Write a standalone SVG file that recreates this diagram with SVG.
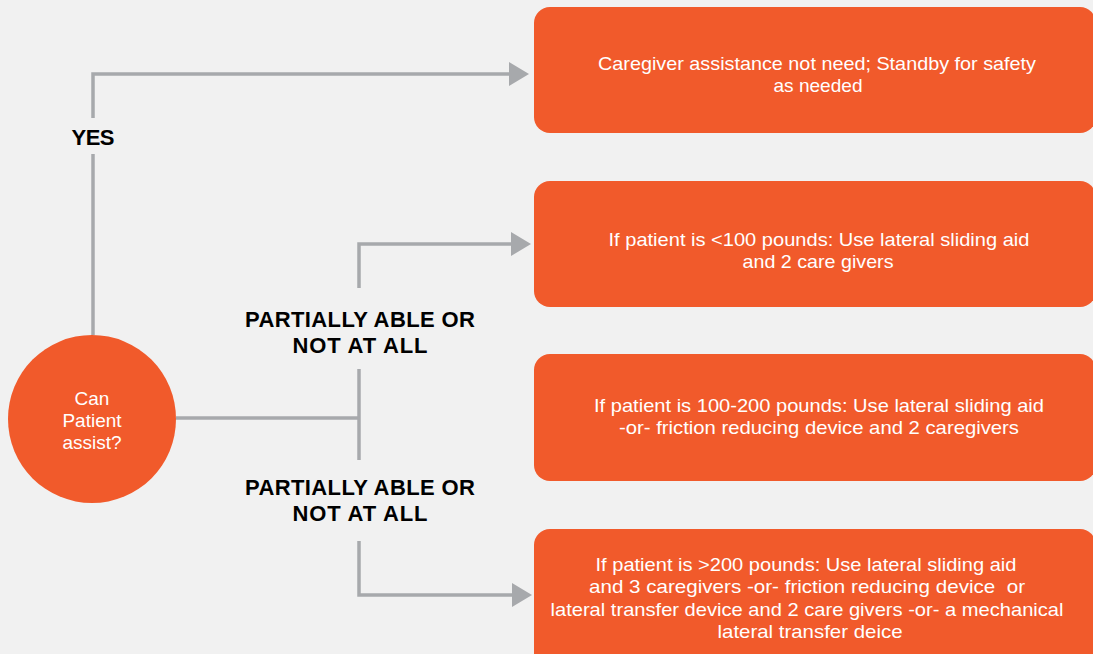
<svg xmlns="http://www.w3.org/2000/svg" width="1093" height="654" viewBox="0 0 1093 654">
<style>
.box{fill:#F15A2B}
.conn{fill:none;stroke:#A7A9AC;stroke-width:3.5}
.t{font-family:"Liberation Sans",Arial,sans-serif;font-size:19px;fill:#ffffff;text-anchor:middle}
.lbl{font-family:"Liberation Sans",Arial,sans-serif;font-size:22px;font-weight:bold;fill:#000000;text-anchor:middle}
</style>
<defs>
<marker id="arr" markerUnits="userSpaceOnUse" markerWidth="21" markerHeight="25" refX="0" refY="12" orient="auto">
<path d="M0,0 L20,12 L0,24 Z" fill="#A7A9AC"/>
</marker>
</defs>
<rect width="1093" height="654" fill="#F1F1F1"/>
<g id="connectors">
<path class="conn" d="M93,335 V154"/>
<path class="conn" d="M93,118 V74 H509" marker-end="url(#arr)"/>
<path class="conn" d="M176,418 H359"/>
<path class="conn" d="M359,369 V460"/>
<path class="conn" d="M359,288 V244 H511" marker-end="url(#arr)"/>
<path class="conn" d="M359,541 V595 H512" marker-end="url(#arr)"/>
<text class="lbl" x="93" y="145" textLength="43">YES</text>
<text class="lbl" x="360" y="327" textLength="230" lengthAdjust="spacing">PARTIALLY ABLE OR</text>
<text class="lbl" x="360" y="353" textLength="135" lengthAdjust="spacing">NOT AT ALL</text>
<text class="lbl" x="360" y="495" textLength="230" lengthAdjust="spacing">PARTIALLY ABLE OR</text>
<text class="lbl" x="360" y="521" textLength="135" lengthAdjust="spacing">NOT AT ALL</text>
</g>
<g id="start">
<circle cx="92" cy="419" r="84" class="box"/>
<text class="t" x="92" y="405">Can</text>
<text class="t" x="92" y="427">Patient</text>
<text class="t" x="92" y="449">assist?</text>
</g>
<g id="box1">
<rect x="534" y="7" width="562" height="126" rx="16" class="box"/>
<text class="t" x="817" y="70" textLength="438" lengthAdjust="spacingAndGlyphs">Caregiver assistance not need; Standby for safety</text>
<text class="t" x="818" y="92" textLength="89" lengthAdjust="spacingAndGlyphs">as needed</text>
</g>
<g id="box2">
<rect x="534" y="181" width="562" height="126" rx="16" class="box"/>
<text class="t" x="819" y="246" textLength="421" lengthAdjust="spacingAndGlyphs">If patient is &lt;100 pounds: Use lateral sliding aid</text>
<text class="t" x="818" y="268" textLength="151" lengthAdjust="spacingAndGlyphs">and 2 care givers</text>
</g>
<g id="box3">
<rect x="534" y="354" width="562" height="127" rx="16" class="box"/>
<text class="t" x="819" y="412" textLength="450" lengthAdjust="spacingAndGlyphs">If patient is 100-200 pounds: Use lateral sliding aid</text>
<text class="t" x="819" y="434" textLength="400" lengthAdjust="spacingAndGlyphs">-or- friction reducing device and 2 caregivers</text>
</g>
<g id="box4">
<rect x="534" y="529" width="562" height="140" rx="16" class="box"/>
<text class="t" x="806" y="571" textLength="421" lengthAdjust="spacingAndGlyphs">If patient is &gt;200 pounds: Use lateral sliding aid</text>
<text class="t" x="807" y="593" textLength="436" lengthAdjust="spacingAndGlyphs" xml:space="preserve">and 3 caregivers -or- friction reducing device  or</text>
<text class="t" x="807" y="616" textLength="513" lengthAdjust="spacingAndGlyphs">lateral transfer device and 2 care givers -or- a mechanical</text>
<text class="t" x="810" y="638" textLength="185" lengthAdjust="spacingAndGlyphs">lateral transfer deice</text>
</g>
</svg>
